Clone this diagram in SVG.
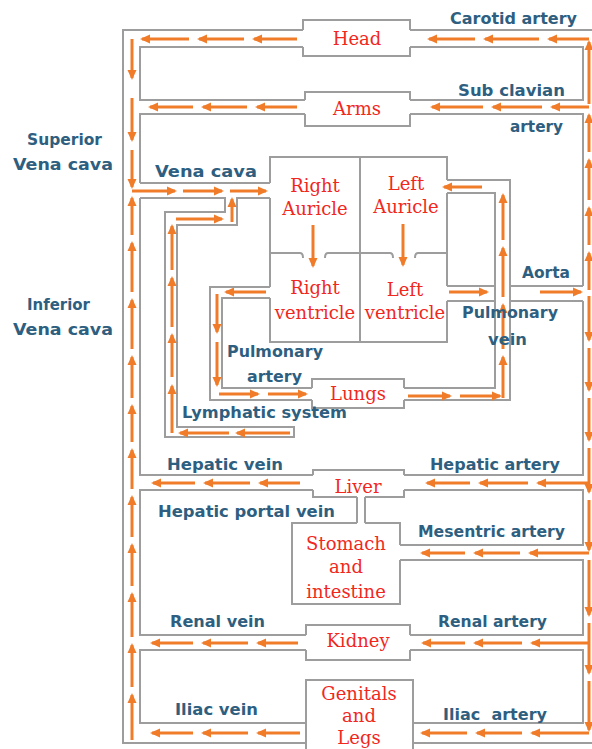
<svg xmlns="http://www.w3.org/2000/svg" width="592" height="749" viewBox="0 0 592 749">
<style>
.g{fill:none;stroke:#9d9d9d;stroke-width:2}
.a{fill:none;stroke:#f07c2a;stroke-width:3;marker-end:url(#ah)}
.r{font-family:"DejaVu Serif","Liberation Serif",serif;font-size:18px;fill:#f0281e;text-anchor:middle}
.b{font-family:"DejaVu Sans","Liberation Sans",sans-serif;font-size:16px;font-weight:bold;fill:#2f5f80}
</style>
<defs>
<marker id="ah" markerUnits="userSpaceOnUse" markerWidth="10" markerHeight="10" refX="8" refY="5" orient="auto">
<path d="M0,0.5 L10,5 L0,9.5 z" fill="#f07c2a"/>
</marker>
</defs>
<rect width="592" height="749" fill="#ffffff"/>
<g id="vessels">
<path class="g" d="M303,30 H123 V743 H306 M410,30 H592 M413,743 H592"/>
<path class="g" d="M303,47 H140 V100 H305 M410,100 H583 V47 H410"/>
<path class="g" d="M140,183 V114 H305 M410,114 H583 V286 M583,301 V475 H404 M313,475 H140 V198"/>
<path class="g" d="M140,183 H270"/>
<path class="g" d="M140,198 H225 V212 H165 V437 H294 V427 H177 V225 H237 V198 H270"/>
<path class="g" d="M270,287 H210 V400 H312 M270,298 H222 V388 H312"/>
<path class="g" d="M404,400 H510 V180 H447 M404,388 H495 V193 H447"/>
<path class="g" d="M447,286 H495 M510,286 H583 M447,301 H495 M510,301 H583"/>
<path class="g" d="M313,490 H140 V635 H306 M410,635 H583 V560 H400"/>
<path class="g" d="M404,490 H583 V545 H400 M357,497 V523 M365,497 V523"/>
<path class="g" d="M306,650 H140 V723 H306 M413,723 H583 V650 H410"/>
</g>
<g id="head">
<path class="g" d="M303,30 V20 H410 V30 M303,47 V56 H410 V47"/>
<text class="r" x="357" y="45">Head</text>
</g>
<g id="arms">
<path class="g" d="M305,100 V92 H410 V100 M305,114 V126 H410 V114"/>
<text class="r" x="357" y="115">Arms</text>
</g>
<g id="heart">
<path class="g" d="M270,183 V157 H447 V180 M270,198 V287 M270,298 V342 H447 V301 M447,286 V193 M360,157 V342"/>
<path class="g" d="M270,253 H300 Q303,253 303,258 M325,258 Q325,253 328,253 H390 Q393,253 393,258 M415,258 Q415,253 418,253 H447"/>
<g id="right-auricle"><text class="r" x="315" y="192">Right</text><text class="r" x="315" y="215">Auricle</text></g>
<g id="left-auricle"><text class="r" x="406" y="190">Left</text><text class="r" x="406" y="213">Auricle</text></g>
<g id="right-ventricle"><text class="r" x="315" y="294">Right</text><text class="r" x="315" y="319">ventricle</text></g>
<g id="left-ventricle"><text class="r" x="405" y="296">Left</text><text class="r" x="405" y="319">ventricle</text></g>
</g>
<g id="lungs">
<path class="g" d="M312,388 V379 H404 V388 M312,400 V408 H404 V400"/>
<text class="r" x="358" y="400">Lungs</text>
</g>
<g id="liver">
<path class="g" d="M313,475 V470 H404 V475 M313,490 V497 H357 M365,497 H404 V490"/>
<text class="r" x="358" y="493">Liver</text>
</g>
<g id="stomach">
<path class="g" d="M357,523 H292 V604 H400 V560 M400,545 V523 H365"/>
<text class="r" x="346" y="550">Stomach</text>
<text class="r" x="346" y="573">and</text>
<text class="r" x="346" y="598">intestine</text>
</g>
<g id="kidney">
<path class="g" d="M306,635 V625 H410 V635 M306,650 V660 H410 V650"/>
<text class="r" x="358" y="647">Kidney</text>
</g>
<g id="genitals">
<path class="g" d="M306,749 V680 H413 V749"/>
<text class="r" x="359" y="700">Genitals</text>
<text class="r" x="359" y="722">and</text>
<text class="r" x="359" y="744">Legs</text>
</g>
<g id="connectors">
<path class="a" d="M589,39 H549"/><path class="a" d="M539,39 H485"/><path class="a" d="M475,39 H429"/>
<path class="a" d="M297,39 H254"/><path class="a" d="M244,39 H199"/><path class="a" d="M189,39 H142"/>
<path class="a" d="M132,39 V78"/><path class="a" d="M132,98 V140"/><path class="a" d="M132,150 V187"/>
<path class="a" d="M132,191 H175"/><path class="a" d="M183,191 H222"/><path class="a" d="M230,191 H266"/>
<path class="a" d="M132,740 V695"/><path class="a" d="M132,687 V645"/><path class="a" d="M132,637 V594"/><path class="a" d="M132,586 V545"/><path class="a" d="M132,537 V497"/><path class="a" d="M132,489 V450"/><path class="a" d="M132,442 V406"/><path class="a" d="M132,398 V357"/><path class="a" d="M132,349 V300"/><path class="a" d="M132,292 V243"/><path class="a" d="M132,235 V198"/>
<path class="a" d="M297,107 H257"/><path class="a" d="M247,107 H203"/><path class="a" d="M193,107 H150"/>
<path class="a" d="M589,107 H552"/><path class="a" d="M542,107 H493"/><path class="a" d="M483,107 H432"/>
<path class="a" d="M589,290 V253"/><path class="a" d="M589,245 V208"/><path class="a" d="M589,200 V160"/><path class="a" d="M589,152 V115"/><path class="a" d="M589,104 V42"/>
<path class="a" d="M589,296 V340"/><path class="a" d="M589,348 V390"/><path class="a" d="M589,398 V440"/><path class="a" d="M589,448 V492"/><path class="a" d="M589,500 V550"/><path class="a" d="M589,560 V615"/><path class="a" d="M589,623 V673"/><path class="a" d="M589,681 V730"/>
<path class="a" d="M449,292 H487"/><path class="a" d="M540,292 H581"/>
<path class="a" d="M408,396 H450"/><path class="a" d="M460,396 H500"/>
<path class="a" d="M503,398 V357"/><path class="a" d="M503,349 V305"/><path class="a" d="M503,297 V248"/><path class="a" d="M503,240 V195"/>
<path class="a" d="M482,187 H444"/>
<path class="a" d="M266,292 H226"/><path class="a" d="M217,294 V332"/><path class="a" d="M217,342 V385"/><path class="a" d="M219,394 H258"/><path class="a" d="M268,394 H306"/>
<path class="a" d="M290,433 H237"/><path class="a" d="M229,433 H180"/>
<path class="a" d="M172,433 V386"/><path class="a" d="M172,377 V335"/><path class="a" d="M172,327 V278"/><path class="a" d="M172,270 V226"/>
<path class="a" d="M176,219 H222"/><path class="a" d="M232,222 V199"/>
<path class="a" d="M313,225 V266"/><path class="a" d="M403,224 V265"/>
<path class="a" d="M589,483 H538"/><path class="a" d="M528,483 H480"/><path class="a" d="M470,483 H427"/>
<path class="a" d="M300,483 H260"/><path class="a" d="M250,483 H205"/><path class="a" d="M195,483 H153"/>
<path class="a" d="M589,553 H530"/><path class="a" d="M520,553 H475"/><path class="a" d="M465,553 H422"/>
<path class="a" d="M589,643 H532"/><path class="a" d="M522,643 H475"/><path class="a" d="M465,643 H423"/>
<path class="a" d="M298,643 H258"/><path class="a" d="M248,643 H203"/><path class="a" d="M193,643 H152"/>
<path class="a" d="M589,733 H532"/><path class="a" d="M522,733 H477"/><path class="a" d="M467,733 H422"/>
<path class="a" d="M300,733 H258"/><path class="a" d="M248,733 H203"/><path class="a" d="M193,733 H152"/>
</g>
<g id="labels">
<text class="b" x="450" y="24" textLength="127" lengthAdjust="spacingAndGlyphs">Carotid artery</text>
<text class="b" x="458" y="96" textLength="107" lengthAdjust="spacingAndGlyphs">Sub clavian</text>
<text class="b" x="510" y="132" textLength="53" lengthAdjust="spacingAndGlyphs">artery</text>
<text class="b" x="27" y="145" textLength="75" lengthAdjust="spacingAndGlyphs">Superior</text>
<text class="b" x="13" y="170" textLength="100" lengthAdjust="spacingAndGlyphs">Vena cava</text>
<text class="b" x="27" y="310" textLength="63" lengthAdjust="spacingAndGlyphs">Inferior</text>
<text class="b" x="13" y="335" textLength="100" lengthAdjust="spacingAndGlyphs">Vena cava</text>
<text class="b" x="155" y="177" textLength="102" lengthAdjust="spacingAndGlyphs">Vena cava</text>
<text class="b" x="522" y="278" textLength="48" lengthAdjust="spacingAndGlyphs">Aorta</text>
<text class="b" x="462" y="318" textLength="96" lengthAdjust="spacingAndGlyphs">Pulmonary</text>
<text class="b" x="488" y="345" textLength="39" lengthAdjust="spacingAndGlyphs">vein</text>
<text class="b" x="227" y="357" textLength="96" lengthAdjust="spacingAndGlyphs">Pulmonary</text>
<text class="b" x="247" y="382" textLength="55" lengthAdjust="spacingAndGlyphs">artery</text>
<text class="b" x="182" y="418" textLength="165" lengthAdjust="spacingAndGlyphs">Lymphatic system</text>
<text class="b" x="167" y="470" textLength="116" lengthAdjust="spacingAndGlyphs">Hepatic vein</text>
<text class="b" x="430" y="470" textLength="130" lengthAdjust="spacingAndGlyphs">Hepatic artery</text>
<text class="b" x="158" y="517" textLength="177" lengthAdjust="spacingAndGlyphs">Hepatic portal vein</text>
<text class="b" x="418" y="537" textLength="147" lengthAdjust="spacingAndGlyphs">Mesentric artery</text>
<text class="b" x="170" y="627" textLength="95" lengthAdjust="spacingAndGlyphs">Renal vein</text>
<text class="b" x="438" y="627" textLength="109" lengthAdjust="spacingAndGlyphs">Renal artery</text>
<text class="b" x="175" y="715" textLength="83" lengthAdjust="spacingAndGlyphs">Iliac vein</text>
<text class="b" x="443" y="720" textLength="104" lengthAdjust="spacingAndGlyphs" xml:space="preserve">Iliac  artery</text>
</g>
</svg>
